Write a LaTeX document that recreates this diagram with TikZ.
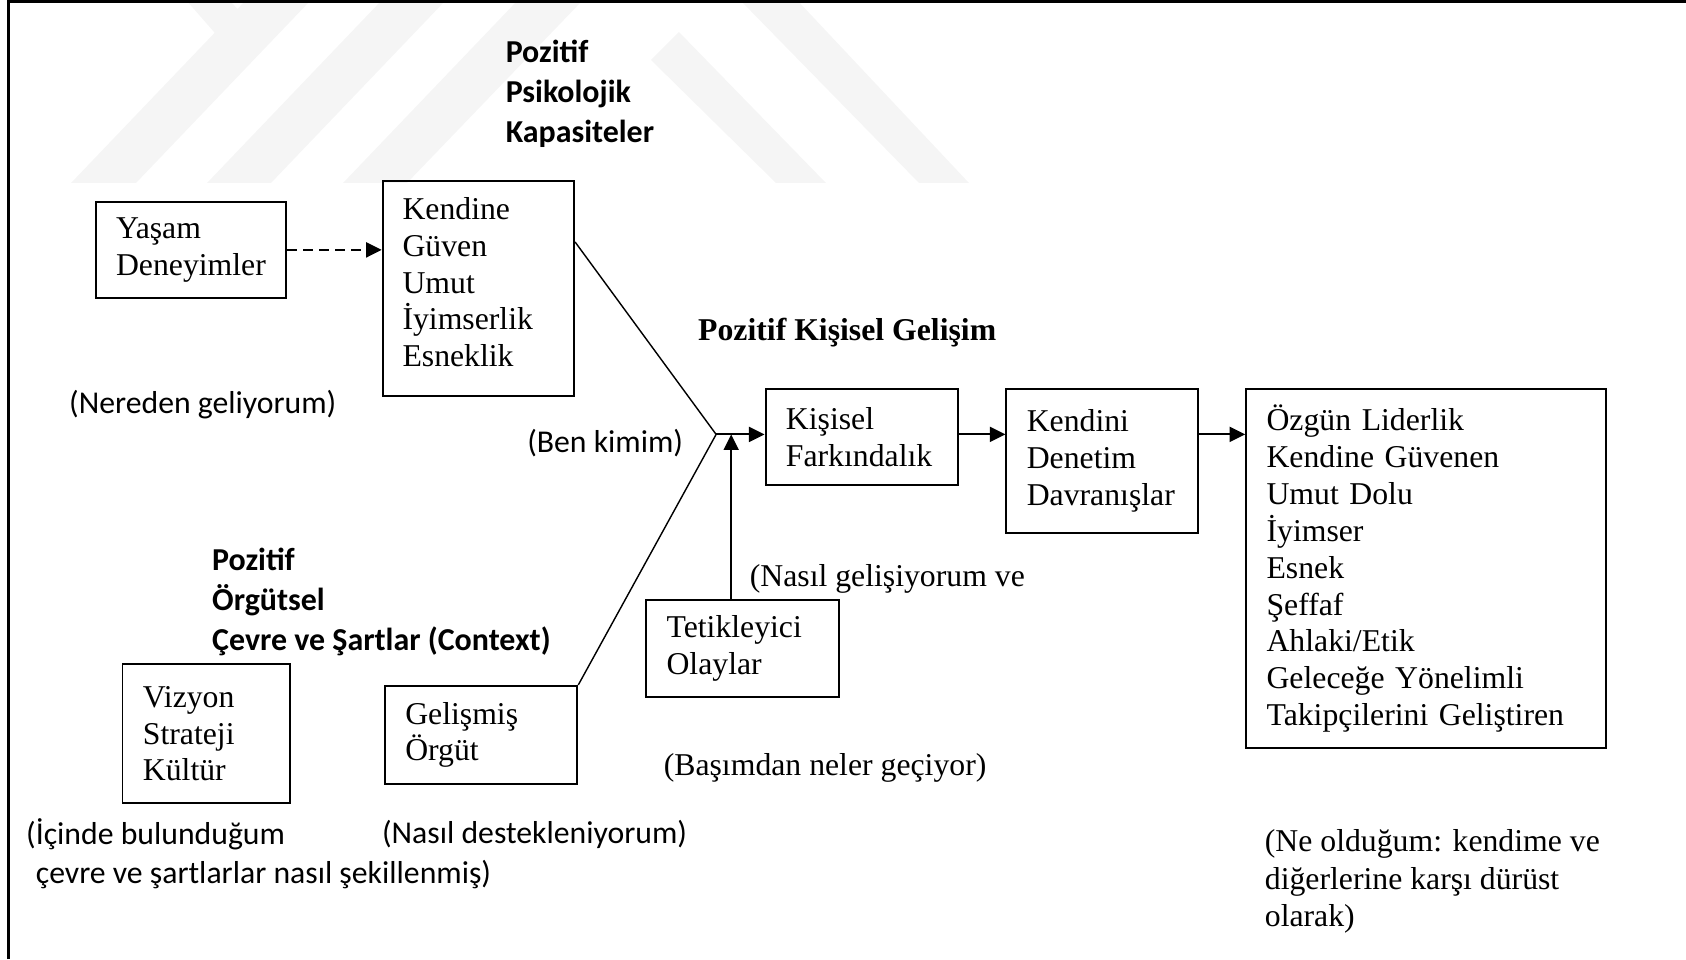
\documentclass[tikz,border=0pt]{standalone}
\usepackage{fontspec}
\setmainfont{Liberation Serif}
\newfontfamily\calfont{Carlito}
\usetikzlibrary{arrows.meta}

\begin{document}
\begin{tikzpicture}[x=0.02cm,y=-0.02cm,
  box/.style={draw, line width=1.05pt, rectangle, anchor=north west, align=left,
    inner xsep=0.38cm, inner ysep=0pt, font=\fontsize{16.8pt}{19.5pt}\selectfont},
  boxtxt/.style={anchor=west, inner sep=0pt, align=left, font=\fontsize{16.8pt}{19.5pt}\selectfont},
  serif/.style={anchor=west, inner sep=0pt, align=left, font=\fontsize{16.8pt}{19.9pt}\selectfont},
  serifbold/.style={serif, font=\fontsize{16.8pt}{19.9pt}\selectfont\bfseries},
  sans/.style={anchor=west, inner sep=0pt, align=left, font=\calfont\fontsize{16.8pt}{20.5pt}\selectfont},
  sanshead/.style={anchor=west, inner sep=0pt, align=left, font=\calfont\bfseries\fontsize{16.9pt}{21.3pt}\selectfont},
  tip/.style={-{Triangle[length=0.29cm,width=0.28cm]}},
  conn/.style={line width=1pt},
  slant/.style={line width=0.75pt},
  dashconn/.style={line width=1pt, dash pattern=on 0.18cm off 0.12cm},
  emblem/.style={fill=gray!8, draw=none}
]
\useasboundingbox (0,0) rectangle (1568,892);

% faint background emblem (slanted bands)
\begin{scope}[scale=0.93]
  \fill[emblem] (71,183) -- (136,183) -- (311,0) -- (246,0) -- cycle;
  \fill[emblem] (186,0) -- (229,0) -- (250,22) -- (221,40) -- cycle;
  \fill[emblem] (207,183) -- (271,183) -- (446,0) -- (382,0) -- cycle;
  \fill[emblem] (343,183) -- (407,183) -- (583,0) -- (518,0) -- cycle;
  \fill[emblem] (651,60) -- (679,32) -- (826,183) -- (776,183) -- cycle;
  \fill[emblem] (740,0) -- (797,0) -- (969,183) -- (919,183) -- cycle;
\end{scope}

% frame
\draw[line width=1.2pt] (8,892) -- (8,1.5) -- (1568,1.5);

% headings
\node[sanshead] (hpsy) at (470,87) {Pozitif\\Psikolojik\\Kapasiteler};
\node[sanshead] (horg) at (197,560) {Pozitif\\Örgütsel\\Çevre ve Şartlar (Context)};
\node[serifbold] (hkis) at (649,309) {Pozitif Kişisel Gelişim};

% boxes
\node[box, text width=2.78cm, minimum height=1.78cm] (yasam) at (88,187) {Yaşam\\Deneyimler};
\node[box, minimum width=3.56cm, minimum height=4.00cm] (kendine) at (355,167) {};
\node[boxtxt] (kendinetxt) at ([xshift=0.38cm,yshift=0.11cm]kendine.west) {Kendine\\Güven\\Umut\\İyimserlik\\Esneklik};
\node[box, text width=2.82cm, minimum height=1.78cm] (kisisel) at (711,361) {Kişisel\\Farkındalık};
\node[box, text width=2.80cm, minimum height=2.68cm] (kendini) at (935,361) {Kendini\\Denetim\\Davranışlar};
\node[box, text width=5.94cm, minimum height=6.68cm] (ozgun) at (1158,361)
  {Özgün Liderlik\\Kendine Güvenen\\Umut Dolu\\İyimser\\Esnek\\Şeffaf\\Ahlaki/Etik\\Geleceğe Yönelimli\\Takipçilerini Geliştiren};
\node[box, text width=2.82cm, minimum height=1.80cm] (tetik) at (600,557) {Tetikleyici\\Olaylar};
\node[box, text width=2.36cm, minimum height=2.58cm] (vizyon) at (113,617) {Vizyon\\Strateji\\Kültür};
\node[box, text width=2.82cm, minimum height=1.82cm] (gelismis) at (357,637) {Gelişmiş\\Örgüt};

% captions
\node[sans] (cner) at (64,376) {(Nereden geliyorum)};
\node[sans] (cben) at (490,412) {(Ben kimim)};
\node[serif] (cnas) at (697,538) {(Nasıl gelişiyorum ve};
\node[serif] (cbas) at (617,714) {(Başımdan neler geçiyor)};
\node[sans] (cicd) at (24,794) {(İçinde bulunduğum\\\hspace*{0.18cm}çevre ve şartlarlar nasıl şekillenmiş)};
\node[sans] (cdes) at (355,776) {(Nasıl destekleniyorum)};
\node[serif] (cne) at (1176,820) {(Ne olduğum: kendime ve\\diğerlerine karşı dürüst\\olarak)};

% connectors
\coordinate (j) at (666,404);
\coordinate (tin) at (680,404);
\draw[dashconn, tip] (yasam.east) -- (yasam.east -| kendine.west);
\draw[slant] (kendine.east |- 0,225) -- (j);
\draw[slant] (gelismis.north east) -- (j);
\draw[conn, tip] (j) -- (j -| kisisel.west);
\draw[conn, tip] (tin |- tetik.north) -- (tin);
\draw[conn, tip] (kisisel.east |- j) -- (kendini.west |- j);
\draw[conn, tip] (kendini.east |- j) -- (ozgun.west |- j);
\end{tikzpicture}
\end{document}
